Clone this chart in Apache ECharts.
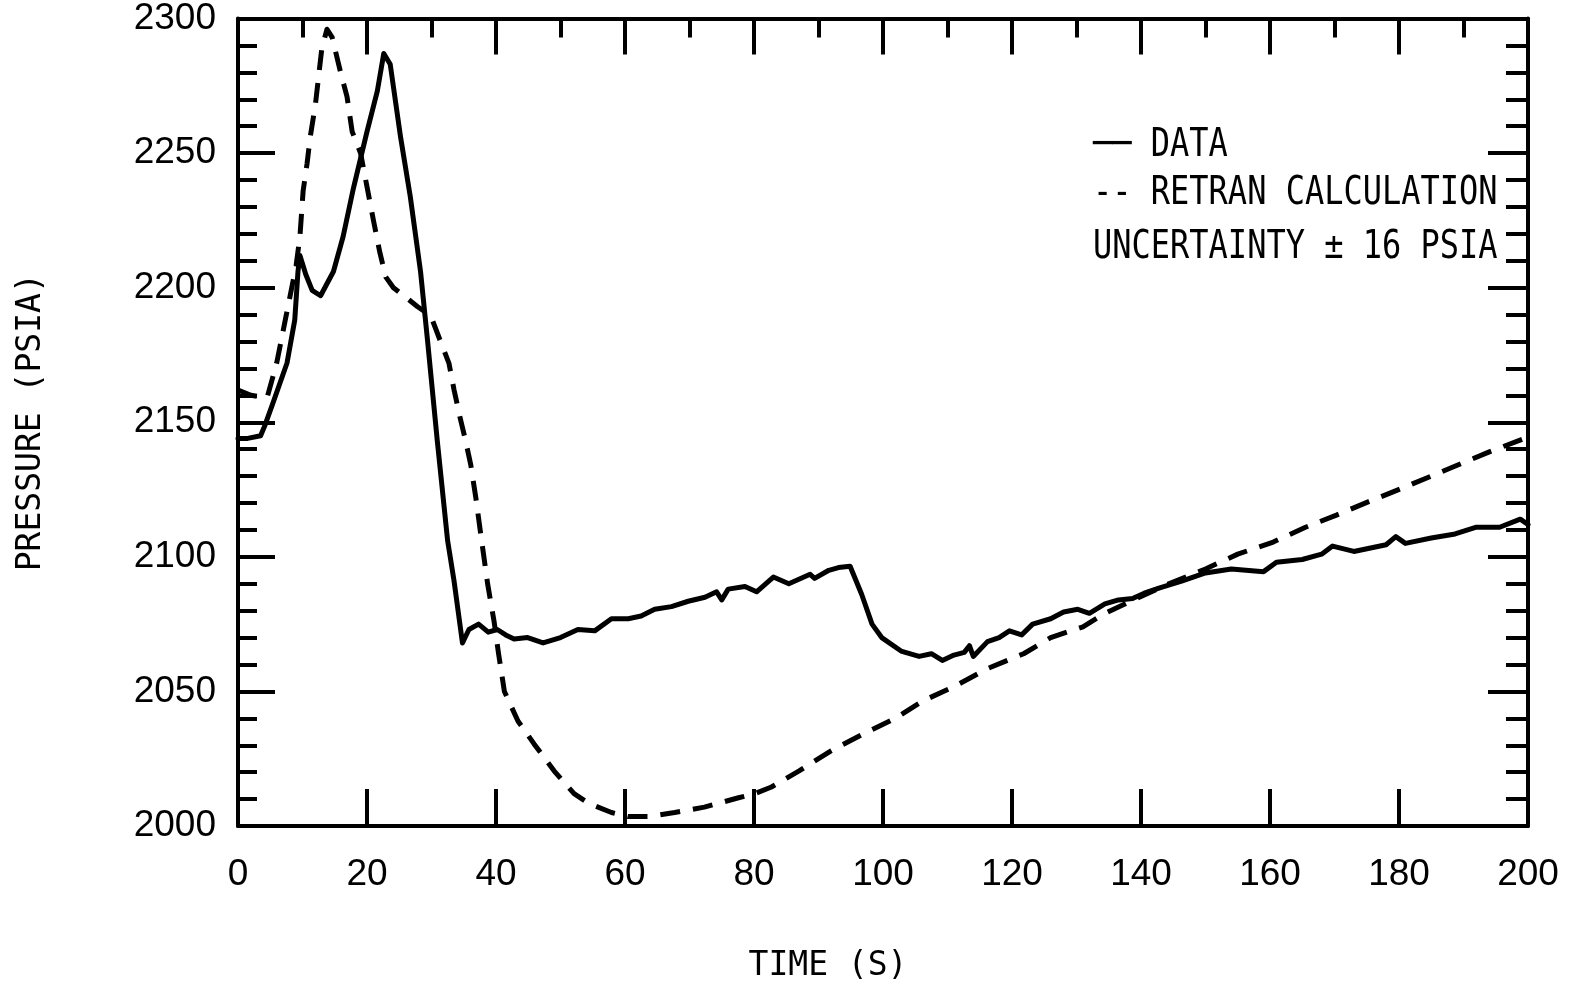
<!DOCTYPE html>
<html>
<head>
<meta charset="utf-8">
<script src="https://cdn.jsdelivr.net/npm/echarts@6/dist/echarts.min.js"></script>
<style>
  html, body { margin: 0; padding: 0; background: #fff; }
  #chart { width: 1574px; height: 990px; }
</style>
</head>
<body>
<div id="chart"></div>
<script>
// time (s) and pressure (psia)
var dataTime = [0, 1.5, 3.5, 4.2, 5.4, 7.6, 8.8, 9.3, 9.6, 10.5, 11.5, 12.8, 14.8, 16.3, 17.9, 20, 21.6, 22.6, 23.6, 25.2, 26.7, 28.3, 29.4, 30.9, 32.5, 33.5, 34.8, 35.8, 37.3, 38.8, 40.2, 41.5, 42.8, 44.9, 47.3, 50, 52.7, 55.3, 57.9, 60.5, 62.5, 64.6, 67.2, 69.8, 72.4, 74.2, 75, 76, 78.6, 80.4, 83, 85.4, 88.7, 89.4, 91.6, 93.1, 94.9, 96.7, 98.3, 99.8, 102.8, 105.6, 107.5, 109.2, 111, 112.6, 113.4, 114, 116.2, 118, 119.6, 121.5, 123.2, 126, 128, 130.2, 132, 134.4, 136.5, 138.7, 140.5, 142.9, 146.3, 150, 154, 159, 161, 165, 168, 169.7, 173, 178, 179.5, 181, 185, 188.7, 192, 195.6, 198.8, 200];
var dataPsia = [2144, 2144, 2145, 2149, 2157, 2172, 2188, 2206, 2212, 2205, 2199, 2197, 2206, 2219, 2237, 2258, 2273, 2287, 2283, 2256, 2234, 2206, 2180, 2143, 2106, 2091, 2068, 2073, 2075, 2072, 2073, 2071, 2069.5, 2070, 2068, 2070, 2073, 2072.5, 2077, 2077, 2078, 2080.5, 2081.5, 2083.5, 2085, 2087, 2084, 2088, 2089, 2087, 2092.5, 2090, 2093.5, 2092, 2095, 2096, 2096.5, 2086, 2075, 2070, 2065, 2063, 2064, 2061.5, 2063.5, 2064.5, 2067, 2063, 2068.5, 2070, 2072.5, 2071, 2075, 2077, 2079.5, 2080.5, 2079, 2082.5, 2084, 2084.5, 2086.5, 2088.5, 2091, 2094, 2095.5, 2094.5, 2098, 2099, 2101, 2104, 2102, 2104.5, 2107.5, 2105, 2107, 2108.5, 2111, 2111, 2114, 2112];

var retranTime = [0, 2, 4.5, 6, 7.5, 9, 9.6, 10.1, 10.7, 11.2, 12, 13, 13.8, 14.6, 15.9, 16.9, 17.7, 19, 20, 21, 22, 22.9, 24.1, 25.7, 27.8, 29.9, 31.4, 32.7, 33.5, 34.5, 35.3, 36.1, 36.9, 37.6, 38.7, 39.7, 40.4, 41.3, 43.4, 45.9, 49, 52.1, 54.3, 57.9, 60.5, 63.6, 67.7, 72.3, 77.6, 80.1, 82.7, 87, 92, 97.2, 101.9, 106.2, 111.2, 116.2, 121.8, 126, 131, 134.4, 139.3, 144.3, 150, 155, 160.5, 165.5, 170.3, 175.3, 181, 188, 194, 200];
var retranPsia = [2162, 2160, 2159, 2172, 2190, 2208, 2219, 2236, 2246, 2256, 2268, 2289, 2296, 2293, 2280, 2271, 2258, 2250, 2237.5, 2225, 2213, 2204, 2200, 2197, 2193, 2189.5, 2180, 2172, 2162, 2151, 2143, 2134, 2121.5, 2109, 2090, 2076, 2064, 2050, 2039, 2030.5, 2020.5, 2012, 2008.5, 2005, 2003.5, 2003.5, 2005, 2007, 2010.5, 2012, 2014.5, 2020.5, 2028, 2034.5, 2040, 2046.5, 2052, 2058.5, 2064, 2070, 2074, 2079, 2084.5, 2090, 2095.5, 2101, 2105.5, 2111, 2115.5, 2120.5, 2126, 2133, 2139, 2144.5];

var xTickLabels = ['0', '20', '40', '60', '80', '100', '120', '140', '160', '180', '200'];
var yTickLabels = ['2000', '2050', '2100', '2150', '2200', '2250', '2300'];
var legendLines = ['── DATA', '-- RETRAN CALCULATION', 'UNCERTAINTY ± 16 PSIA'];

function pairs(xs, ys) {
    return xs.map(function (x, i) { return [x, ys[i]]; });
}

var mono = "'DejaVu Sans Mono', 'Liberation Mono', monospace";
var sans = "'Liberation Sans', Arial, sans-serif";
var ink = '#000';

var myChart = echarts.init(document.getElementById('chart'));

var options = {
    backgroundColor: '#fff',
    animation: false,
    grid: { left: 238, right: 46, top: 14, bottom: 164, containLabel: false },
    xAxis: [
        {
            type: 'value', min: 0, max: 200, interval: 20, position: 'bottom',
            name: 'TIME (S)', nameLocation: 'middle', nameGap: 124,
            nameTextStyle: { fontFamily: mono, fontSize: 33, color: ink, padding: [0, 110, 0, 0] },
            axisLine: { show: true, onZero: false, lineStyle: { color: ink, width: 4 } },
            axisTick: { show: true, inside: true, length: 37, lineStyle: { color: ink, width: 4 } },
            minorTick: { show: false },
            axisLabel: {
                margin: 30, fontFamily: sans, fontSize: 37, color: ink,
                formatter: function (v) { return xTickLabels[Math.round(v / 20)]; }
            },
            splitLine: { show: false }
        },
        {
            type: 'value', min: 0, max: 200, interval: 20, position: 'top',
            axisLine: { show: true, onZero: false, lineStyle: { color: ink, width: 4 } },
            axisTick: { show: true, inside: true, length: 36, lineStyle: { color: ink, width: 4 } },
            minorTick: { show: true, splitNumber: 2, length: 19, lineStyle: { color: ink, width: 4 } },
            axisLabel: { show: false },
            splitLine: { show: false }
        }
    ],
    yAxis: [
        {
            type: 'value', min: 2000, max: 2300, interval: 50, position: 'left',
            name: 'PRESSURE (PSIA)', nameLocation: 'middle', nameRotate: 90, nameGap: 190,
            nameTextStyle: { fontFamily: mono, fontSize: 33, color: ink },
            axisLine: { show: true, onZero: false, lineStyle: { color: ink, width: 4 } },
            axisTick: { show: true, inside: true, length: 37, lineStyle: { color: ink, width: 4 } },
            minorTick: { show: true, splitNumber: 5, length: 19, lineStyle: { color: ink, width: 4 } },
            axisLabel: {
                margin: 22, fontFamily: sans, fontSize: 37, color: ink,
                formatter: function (v) { return yTickLabels[Math.round((v - 2000) / 50)]; }
            },
            splitLine: { show: false }
        },
        {
            type: 'value', min: 2000, max: 2300, interval: 50, position: 'right',
            axisLine: { show: true, onZero: false, lineStyle: { color: ink, width: 4 } },
            axisTick: { show: true, inside: true, length: 40, lineStyle: { color: ink, width: 4 } },
            minorTick: { show: true, splitNumber: 5, length: 22, lineStyle: { color: ink, width: 4 } },
            axisLabel: { show: false },
            splitLine: { show: false }
        }
    ],
    graphic: legendLines.map(function (txt, i) {
        return {
            type: 'text', x: 1093, y: [146, 194, 248][i], scaleY: 1.22, z: 10,
            style: { text: txt, fontFamily: mono, fontSize: 32, fill: ink, verticalAlign: 'middle' }
        };
    }),
    series: [
        {
            name: 'DATA', type: 'line', xAxisIndex: 0, yAxisIndex: 0,
            data: pairs(dataTime, dataPsia),
            symbol: 'none', smooth: false,
            lineStyle: { color: ink, width: 5, type: 'solid', join: 'round', cap: 'round' }
        },
        {
            name: 'RETRAN CALCULATION', type: 'line', xAxisIndex: 0, yAxisIndex: 0,
            data: pairs(retranTime, retranPsia),
            symbol: 'none', smooth: false,
            lineStyle: { color: ink, width: 5, type: [20, 13], join: 'round' }
        }
    ]
};

myChart.setOption(options);
</script>
</body>
</html>
